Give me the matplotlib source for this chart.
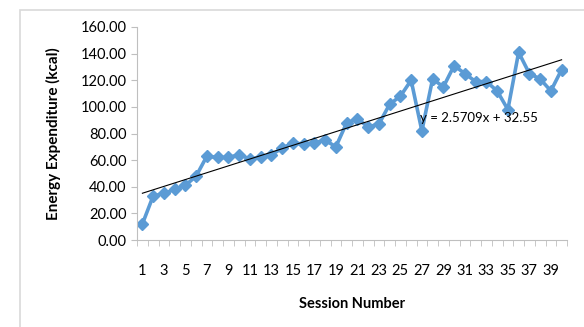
import matplotlib.pyplot as plt
import numpy as np
from matplotlib.patches import Rectangle

sessions = np.arange(1, 41)
energy = [12, 33, 35, 38, 41, 48, 63, 62, 62, 64,
          61, 62, 64, 69, 73, 72, 73, 75, 70, 88,
          91, 85, 87, 102, 108, 120, 82, 121, 115, 131,
          125, 119, 119, 112, 98, 141, 125, 121, 112, 128]
slope, intercept = 2.5709, 32.55

plt.rcParams['font.family'] = ['Lato', 'DejaVu Sans']

fig = plt.figure(figsize=(5.84, 3.27), dpi=100)
# chart area border
fig.patches.append(Rectangle((20 / 584, -0.1), 1.0, 1.1 - 10 / 327, transform=fig.transFigure,
                             fill=False, edgecolor='#d9d9d9', linewidth=1.2))
ax = fig.add_axes([137 / 584, 87 / 327, 430 / 584, 213 / 327])

ax.plot(sessions, energy, color='#5b9bd5', linewidth=2.6, marker='D', markersize=6.5)
ax.plot(sessions, slope * sessions + intercept, color='black', linewidth=0.8)
ax.text(26.8, 92, 'y = 2.5709x + 32.55', fontsize=9.5, va='center', ha='left')

ax.set_xlim(0.5, 40.5)
ax.set_ylim(0, 160)
ax.set_yticks(np.arange(0, 161, 20))
ax.set_yticklabels([f'{v:.2f}' for v in np.arange(0, 161, 20)])
ax.set_xticks(np.arange(1, 41, 2))
ax.set_xticks(np.arange(0.5, 41, 1), minor=True)
ax.tick_params(axis='x', which='major', length=0, pad=17, labelsize=10.5)
ax.tick_params(axis='x', which='minor', length=4, color='#bfbfbf')
ax.tick_params(axis='y', length=4, color='#bfbfbf', labelsize=10.5)

for s in ['top', 'right']:
    ax.spines[s].set_visible(False)
for s in ['left', 'bottom']:
    ax.spines[s].set_color('#bfbfbf')

ax.set_xlabel('Session Number', fontweight='bold', fontsize=10.5, labelpad=14)
ax.set_ylabel('Energy Expenditure (kcal)', fontweight='bold', fontsize=11, labelpad=14)

fig.savefig('out.png', dpi=100)
